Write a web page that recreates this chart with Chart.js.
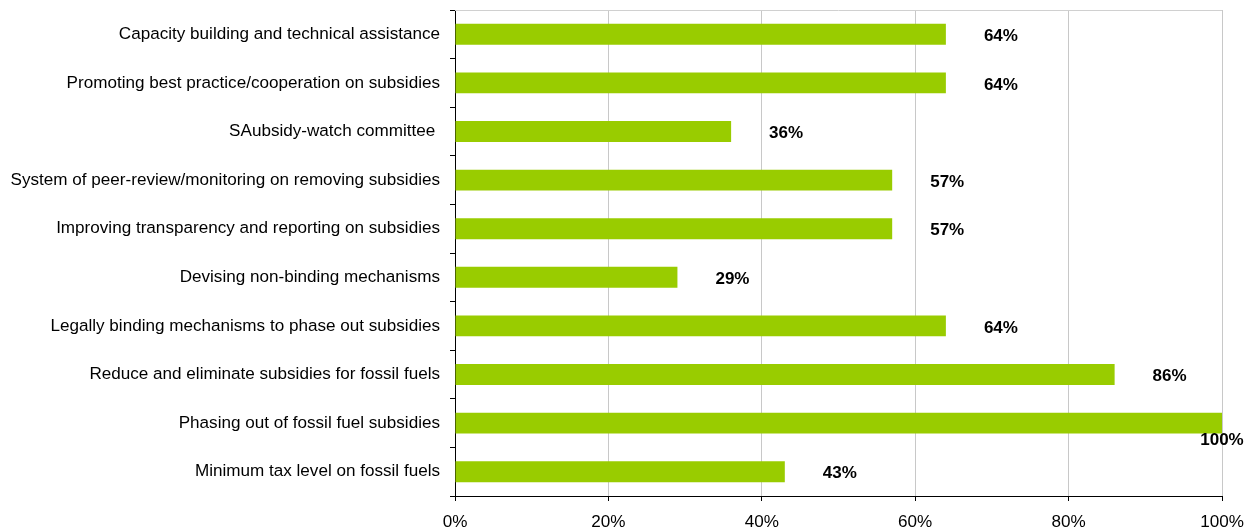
<!DOCTYPE html>
<html>
<head>
<meta charset="utf-8">
<script src="https://cdn.jsdelivr.net/npm/chart.js@4"></script>
<style>
  html, body { margin: 0; padding: 0; background: #fff; }
  #wrap { width: 1250px; height: 532px; }
</style>
</head>
<body>
<div id="wrap"><canvas id="barChart" width="1250" height="532"></canvas></div>
<script>
// survey answers, top to bottom
const categories = [
    'Capacity building and technical assistance',
    'Promoting best practice/cooperation on subsidies',
    'SAubsidy-watch committee ',
    'System of peer-review/monitoring on removing subsidies',
    'Improving transparency and reporting on subsidies',
    'Devising non-binding mechanisms',
    'Legally binding mechanisms to phase out subsidies',
    'Reduce and eliminate subsidies for fossil fuels',
    'Phasing out of fossil fuel subsidies',
    'Minimum tax level on fossil fuels'
];
const shares = [64, 64, 36, 57, 57, 29, 64, 86, 100, 43];
const xTicks = [0, 20, 40, 60, 80, 100];

const FONT = "'Liberation Sans', Arial, sans-serif";

// percent labels to the right of each bar
const valueLabels = {
    id: 'valueLabels',
    afterDatasetsDraw(chart) {
        const c = chart.ctx;
        const meta = chart.getDatasetMeta(0);
        c.save();
        c.font = 'bold 17px ' + FONT;
        c.fillStyle = '#000';
        c.textBaseline = 'middle';
        meta.data.forEach((bar, i) => {
            const txt = shares[i] + '%';
            const w = c.measureText(txt).width;
            let x = bar.x + 38;
            let y = bar.y + 2;
            if (x + w > chart.width - 4) {
                // no room on the right: tuck it under the bar end
                x = bar.x - w / 2;
                y = bar.y + 17;
            }
            c.textAlign = 'left';
            c.fillText(txt, x, y);
        });
        c.restore();
    }
};

// light frame line along the top of the plot
const topLine = {
    id: 'topLine',
    beforeDatasetsDraw(chart) {
        const a = chart.chartArea;
        const c = chart.ctx;
        c.save();
        c.strokeStyle = '#d0d0d0';
        c.lineWidth = 1;
        c.beginPath();
        c.moveTo(a.left, Math.round(a.top) + 0.5);
        c.lineTo(a.right, Math.round(a.top) + 0.5);
        c.stroke();
        c.restore();
    }
};

const ctx = document.getElementById('barChart').getContext('2d');
new Chart(ctx, {
    type: 'bar',
    data: {
        labels: categories,
        datasets: [{
            data: shares,
            backgroundColor: '#99CC00',
            borderWidth: 0,
            categoryPercentage: 1,
            barPercentage: 0.43
        }]
    },
    options: {
        indexAxis: 'y',
        responsive: false,
        animation: false,
        layout: { padding: { top: 10, right: 28, left: 0, bottom: 0 } },
        plugins: {
            legend: { display: false },
            tooltip: { enabled: false }
        },
        scales: {
            x: {
                min: 0,
                max: 100,
                afterBuildTicks: scale => { scale.ticks = xTicks.map(v => ({ value: v })); },
                ticks: {
                    callback: v => v + '%',
                    color: '#000',
                    font: { family: FONT, size: 17.1 },
                    padding: 11,
                    maxRotation: 0
                },
                grid: {
                    color: '#c8c8c8',
                    tickColor: '#000',
                    tickLength: 5,
                    lineWidth: 1
                },
                border: { color: '#000', width: 1 },
                afterFit: scale => {
                    scale.height = 36;
                    scale.paddingLeft = 0;
                    scale.paddingRight = 0;
                }
            },
            y: {
                ticks: {
                    color: '#000',
                    font: { family: FONT, size: 17.1 },
                    padding: 10,
                    autoSkip: false
                },
                grid: {
                    offset: true,
                    drawOnChartArea: false,
                    tickColor: '#000',
                    tickLength: 5
                },
                border: { color: '#000', width: 1 },
                afterFit: scale => {
                    scale.width = 455;
                    scale.paddingTop = 0;
                    scale.paddingBottom = 0;
                }
            }
        }
    },
    plugins: [topLine, valueLabels]
});
</script>
</body>
</html>
